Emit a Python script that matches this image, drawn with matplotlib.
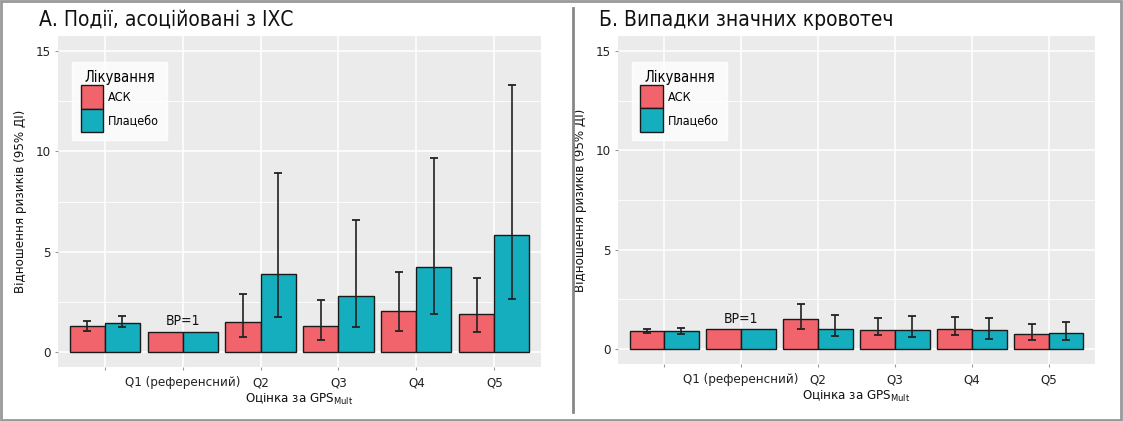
import numpy as np
import matplotlib
matplotlib.use("Agg")
import matplotlib.pyplot as plt
from matplotlib.patches import Rectangle, Patch
from matplotlib.lines import Line2D

plt.rcParams['font.family'] = ['DejaVu Sans']
plt.rcParams['font.stretch'] = 'condensed'

nan = np.nan
groups = ['', 'Q1 (референсний)', 'Q2', 'Q3', 'Q4', 'Q5']
treatments = ['АСК', 'Плацебо']
colors = ['#F2646B', '#14AEBE']

# Panel A
a_ask = [1.28, 1.0, 1.5, 1.28, 2.06, 1.9]
a_ask_lo = [1.03, nan, 0.75, 0.61, 1.06, 1.0]
a_ask_hi = [1.53, nan, 2.9, 2.6, 4.0, 3.7]
a_pl = [1.45, 1.0, 3.9, 2.8, 4.25, 5.85]
a_pl_lo = [1.23, nan, 1.72, 1.23, 1.89, 2.64]
a_pl_hi = [1.77, nan, 8.9, 6.6, 9.65, 13.3]

# Panel B
b_ask = [0.92, 1.0, 1.52, 0.98, 1.03, 0.75]
b_ask_lo = [0.8, nan, 1.0, 0.7, 0.7, 0.47]
b_ask_hi = [1.02, nan, 2.29, 1.58, 1.6, 1.25]
b_pl = [0.92, 1.0, 1.02, 0.98, 0.95, 0.82]
b_pl_lo = [0.77, nan, 0.67, 0.62, 0.53, 0.47]
b_pl_hi = [1.08, nan, 1.7, 1.65, 1.57, 1.35]

titles = ['А. Події, асоційовані з ІХС', 'Б. Випадки значних кровотеч']
ylabel = 'Відношення ризиків (95% ДІ)'
xlabel = 'Оцінка за GPS$_{\\mathregular{Mult}}$'
ref_text = 'ВР=1'
yticks = [0, 5, 10, 15]

W, H = 1123, 421
fig = plt.figure(figsize=(W / 100, H / 100), dpi=100)

def fx(px):
    return px / W

def fy(py):
    return 1 - py / H

axA = fig.add_axes([fx(58), fy(367), fx(541 - 58), (367 - 36) / H])
axB = fig.add_axes([fx(618), fy(364), fx(1095 - 618), (364 - 36) / H])

panels = [
    (axA, [a_ask, a_pl], [a_ask_lo, a_pl_lo], [a_ask_hi, a_pl_hi]),
    (axB, [b_ask, b_pl], [b_ask_lo, b_pl_lo], [b_ask_hi, b_pl_hi]),
]

bw = 0.45
x = np.arange(len(groups))
for i, (ax, vals, los, his) in enumerate(panels):
    ax.set_facecolor('#EBEBEB')
    for s in ax.spines.values():
        s.set_visible(False)
    ax.set_xlim(-0.6, len(groups) - 0.4)
    ax.set_ylim(-0.75, 15.75)
    ax.set_yticks(yticks)
    ax.set_yticks([2.5, 7.5, 12.5], minor=True)
    ax.set_xticks(x)
    ax.set_xticklabels(groups)
    ax.grid(True, which='major', color='white', lw=1.1)
    ax.grid(True, which='minor', axis='y', color='white', lw=0.6)
    ax.set_axisbelow(True)
    ax.tick_params(axis='both', which='major', length=2.5, color='#999999',
                   labelsize=9.5, labelcolor='#222222')
    ax.tick_params(axis='x', pad=4)
    ax.tick_params(axis='y', pad=3)
    ax.tick_params(which='minor', length=0)
    for j in range(2):
        offs = (j - 0.5) * bw
        ax.bar(x + offs, vals[j], width=bw, color=colors[j], edgecolor='#1a1a1a',
               linewidth=1.0, zorder=2)
        v = np.array(vals[j])
        lo = np.array(los[j])
        hi = np.array(his[j])
        mask = ~np.isnan(lo)
        ax.errorbar(x[mask] + offs, v[mask],
                    yerr=[v[mask] - lo[mask], hi[mask] - v[mask]],
                    fmt='none', ecolor='#222222', elinewidth=1.2, capsize=3.2,
                    capthick=1.3, zorder=3)
    ax.text(1, 1.18, ref_text, ha='center', va='bottom', fontsize=10, color='#111111',
            zorder=4)
    ax.set_ylabel(ylabel, fontsize=9.5, labelpad=6, color='#111111')
    ax.set_xlabel(xlabel, fontsize=9.5, labelpad=2, color='#111111')
    ax.set_title(titles[i], loc='left', fontsize=15, color='#111111',
                 x=-0.04, y=1.005)
    handles = [Patch(facecolor=colors[k], edgecolor='#1a1a1a', linewidth=1.0)
               for k in range(2)]
    leg = ax.legend(handles, treatments, title='Лікування', loc='upper left',
                    bbox_to_anchor=(0.03, 0.921), frameon=True, fancybox=False,
                    fontsize=9, title_fontsize=10.5, handlelength=1.8,
                    handleheight=2.5, labelspacing=0.0, handletextpad=0.4,
                    borderpad=0.65, borderaxespad=0.0)
    leg.get_frame().set_facecolor('white')
    leg.get_frame().set_edgecolor('white')
    leg.get_title().set_fontweight('medium')
    leg.get_title().set_color('#000000')

# divider and outer frame
fig.add_artist(Line2D([fx(573), fx(573)], [fy(8), fy(412)], color='#888888', lw=2))
fig.add_artist(Rectangle((0.001, 0.002), 0.997, 0.995, transform=fig.transFigure,
                         fill=False, edgecolor='#999999', lw=2))

fig.savefig('out.png', dpi=100)
